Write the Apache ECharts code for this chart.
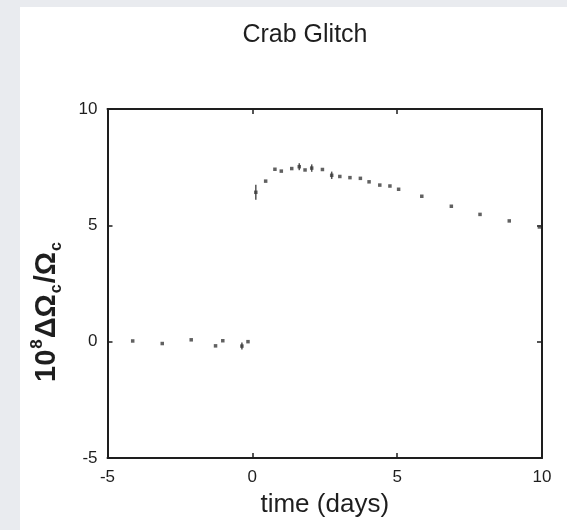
<!DOCTYPE html>
<html>
<head>
<meta charset="utf-8">
<script src="https://cdn.jsdelivr.net/npm/echarts@6/dist/echarts.min.js"></script>
<style>
html,body{margin:0;padding:0;background:#e9ebef;}
#chart{width:567px;height:530px;}
</style>
</head>
<body>
<div id="chart"></div>
<script>
// Data
var preTime = [-4.13, -3.11, -2.11, -1.27, -1.02, -0.36, -0.15];
var preValue = [0.03, -0.08, 0.08, -0.18, 0.04, -0.19, 0.0];
var preErr = [0, 0, 0, 0, 0, 0.15, 0];

var postTime = [0.12, 0.46, 0.78, 1.0, 1.36, 1.62, 1.82, 2.05, 2.42, 2.74, 3.02, 3.37, 3.73, 4.03, 4.40, 4.75, 5.05, 5.85, 6.87, 7.86, 8.87, 9.91];
var postValue = [6.42, 6.9, 7.41, 7.33, 7.44, 7.52, 7.38, 7.46, 7.40, 7.15, 7.10, 7.05, 7.02, 6.87, 6.73, 6.69, 6.55, 6.25, 5.82, 5.47, 5.19, 4.93];
var postErr = [0.32, 0, 0, 0, 0, 0.15, 0, 0.16, 0, 0.16, 0, 0, 0, 0, 0, 0, 0, 0, 0, 0, 0, 0];

var xTicks = [-5, 0, 5, 10];
var yTicks = [-5, 0, 5, 10];

var FONT = "'Liberation Sans Narrow', 'Liberation Sans', Arial, sans-serif";
var INK = '#1e1e1e';

var points = [];
var errs = [];
function add(ts, vs, es) {
  for (var i = 0; i < ts.length; i++) {
    points.push([ts[i], vs[i]]);
    if (es[i] > 0) errs.push([ts[i], vs[i] - es[i], vs[i] + es[i]]);
  }
}
add(preTime, preValue, preErr);
add(postTime, postValue, postErr);

var chart = echarts.init(document.getElementById('chart'), null, {renderer: 'canvas'});

var axisLineStyle = {color: INK, width: 2};
var option = {
  backgroundColor: '#e9ebef',
  animation: false,
  graphic: [{
    type: 'rect', z: -100, silent: true,
    shape: {x: 20, y: 7, width: 560, height: 530},
    style: {fill: '#ffffff'}
  }],
  title: {
    text: 'Crab Glitch',
    left: 300, top: 18, textAlign: 'center',
    textStyle: {fontFamily: FONT, fontSize: 25, fontWeight: 'normal', color: INK}
  },
  grid: {left: 107.5, right: 25, top: 109, bottom: 72, outerBoundsMode: 'none', containLabel: false},
  xAxis: [{
    type: 'value', min: -5, max: 10, interval: 5, position: 'bottom',
    name: 'time (days)', nameLocation: 'middle', nameGap: 34,
    nameTextStyle: {fontFamily: FONT, fontSize: 26, color: INK},
    axisLine: {show: true, onZero: false, lineStyle: axisLineStyle},
    axisTick: {show: true, inside: true, length: 5, lineStyle: {color: INK, width: 1.5}},
    axisLabel: {fontFamily: FONT, fontSize: 17, color: INK, margin: 11,
      formatter: function (v) { return xTicks.indexOf(v) >= 0 ? String(v) : ''; }},
    splitLine: {show: false}
  }, {
    type: 'value', min: -5, max: 10, interval: 5, position: 'top',
    axisLine: {show: true, onZero: false, lineStyle: axisLineStyle},
    axisTick: {show: true, inside: true, length: 5, lineStyle: {color: INK, width: 1.5}},
    axisLabel: {show: false}, splitLine: {show: false}
  }],
  yAxis: [{
    type: 'value', min: -5, max: 10, interval: 5, position: 'left',
    name: '{b|10}{sup|8}{b|ΔΩ}{sub|c}{b|/Ω}{sub|c}',
    nameLocation: 'middle', nameRotate: 90, nameGap: 43,
    nameTextStyle: {
      fontFamily: FONT, fontSize: 29, fontWeight: 'bold', color: INK,
      padding: [0, 56, 0, 0],
      rich: {
        b: {fontFamily: "'Liberation Sans', Arial, sans-serif", fontSize: 29, fontWeight: 'bold', color: INK, lineHeight: 36},
        sup: {fontFamily: "'Liberation Sans', Arial, sans-serif", fontSize: 17, fontWeight: 'bold', color: INK, verticalAlign: 'top', lineHeight: 36, padding: [0, 1, 12, 1]},
        sub: {fontFamily: "'Liberation Sans', Arial, sans-serif", fontSize: 16, fontWeight: 'bold', color: INK, verticalAlign: 'bottom', lineHeight: 36, padding: [12, 1, 0, 1]}
      }
    },
    axisLine: {show: true, onZero: false, lineStyle: axisLineStyle},
    axisTick: {show: true, inside: true, length: 5, lineStyle: {color: INK, width: 1.5}},
    axisLabel: {fontFamily: FONT, fontSize: 17, color: INK, margin: 10,
      formatter: function (v) { return yTicks.indexOf(v) >= 0 ? String(v) : ''; }},
    splitLine: {show: false}
  }, {
    type: 'value', min: -5, max: 10, interval: 5, position: 'right',
    axisLine: {show: true, onZero: false, lineStyle: axisLineStyle},
    axisTick: {show: true, inside: true, length: 5, lineStyle: {color: INK, width: 1.5}},
    axisLabel: {show: false}, splitLine: {show: false}
  }],
  series: [{
    type: 'scatter',
    data: points,
    symbol: 'rect',
    symbolSize: 3.5,
    itemStyle: {color: '#3a3a3a'},
    z: 3
  }, {
    type: 'custom',
    data: errs,
    renderItem: function (params, api) {
      var top = api.coord([api.value(0), api.value(2)]);
      var bot = api.coord([api.value(0), api.value(1)]);
      return {
        type: 'line',
        shape: {x1: top[0], y1: top[1], x2: bot[0], y2: bot[1]},
        style: {stroke: '#555', lineWidth: 1.5}
      };
    },
    z: 2
  }]
};
chart.setOption(option);
</script>
</body>
</html>
